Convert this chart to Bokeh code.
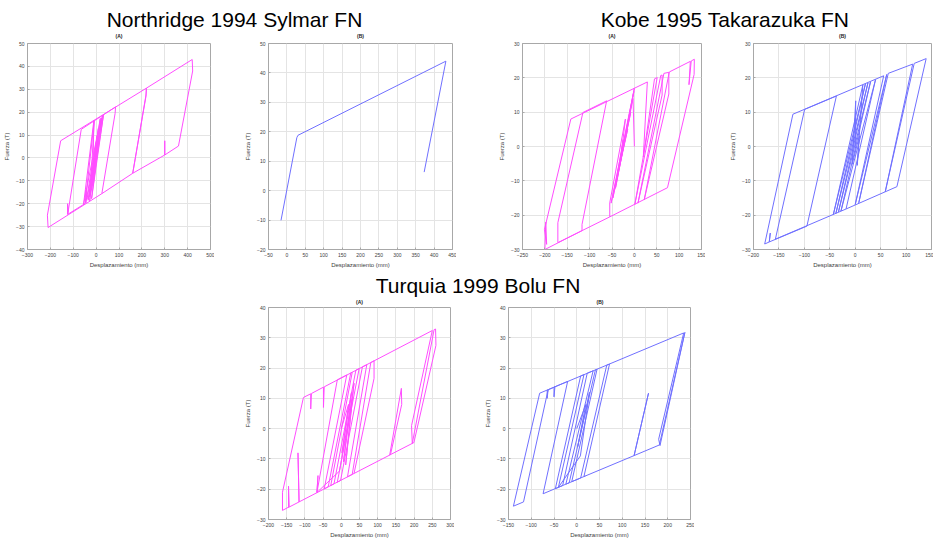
from bokeh.plotting import figure
from bokeh.models import Range1d, FixedTicker, Spacer
from bokeh.layouts import column, row
from bokeh.embed import file_html
from bokeh.resources import INLINE
from bokeh.core.properties import value

# ---------------- titles ----------------
group_titles = ["Northridge 1994 Sylmar FN", "Kobe 1995 Takarazuka FN", "Turquia 1999 Bolu FN"]
panel_titles = ["(A)", "(B)"]
x_label = "Desplazamiento (mm)"
y_label = "Fuerza (T)"

# ---------------- tick values ----------------
na_xticks = [-300, -200, -100, 0, 100, 200, 300, 400, 500]
na_yticks = [-40, -30, -20, -10, 0, 10, 20, 30, 40, 50]
nb_xticks = [-50, 0, 50, 100, 150, 200, 250, 300, 350, 400, 450]
nb_yticks = [-20, -10, 0, 10, 20, 30, 40, 50]
ka_xticks = [-250, -200, -150, -100, -50, 0, 50, 100, 150]
kb_xticks = [-200, -150, -100, -50, 0, 50, 100, 150]
k_yticks = [-30, -20, -10, 0, 10, 20, 30]
ta_xticks = [-200, -150, -100, -50, 0, 50, 100, 150, 200, 250, 300]
tb_xticks = [-150, -100, -50, 0, 50, 100, 150, 200, 250]
t_yticks = [-30, -20, -10, 0, 10, 20, 30, 40]

# ---------------- Northridge (A) ----------------
na_x = [0, 15, -20, 22, -30, 10, -35, 28, -25, 18, -45, -45, -40, 25, -20, 32, -15, -10, -55, 5, -28, -8, -48,
        -125, -125, -121, -124, -65, 85, 83, 25,
        -210, -213, -155, 220, 218, 160, 218, 220,
        420, 422, 360, 300, 300, 300, 160, 25]
na_y = [0, 14, -14, 17.5, -17, 13, -18.5, 18.5, -16, 17.2, -19.7, -14, -18, 17.5, -17.8, 18.7, -12, 16.2, -20.3, 10, -18.8, 16.5, -19.9,
        -24.7, -20, -22.5, -24.5, 12.5, 22.3, 19.5, -15.6,
        -30.4, -25, 7.5, 30.5, 27, -6.7, 27.5, 30.5,
        43, 38, 5.2, 1.3, 7.5, 1.3, -6.7, -15.6]

# ---------------- Northridge (B) ----------------
nb_x = [-16, 27, 30, 432, 373]
nb_y = [-10.1, 18, 18.8, 44, 6.3]

# ---------------- Kobe (A) ----------------
ka_x = [0, -3, -42, -1, -48, 0, -52, -8, -45, -15, -38, -25, -30, -20, -55, -55,
        -171, -171, -115, -62, -117, -117, -200, -198, -196, -201,
        -142, 29, 20, 45, 51, 1, 59, 62, 62, 8, 66, 77, 77, 22, 78, 125, 122, 127, 131, 134, 133.5, 74, -55]
ka_y = [0, 14, -12, 16, -15, 17, -16.5, 10, -13, 5, -8, 2, -3, 8, -16.4, -20.5,
        -28, -22.2, 9.9, 13.3, -22.7, -24.5, -30, -22, -28.5, -24.2,
        8, 18.8, -3, 19.7, 20.1, -16.9, 20.7, 20.8, 15, -16.5, 21.3, 21.6, 15.3, -15.5, 21.7, 24.8, 18, 24.9, 25.2, 25.4, 21, -12, -20.5]

# ---------------- Kobe (B) ----------------
kb_x = [0, 1, -6, 8, 4,
        15, -43, 20, -38, 25, -33, 30, -28, 40, -18,
        -157, -99.5, -37, -95, -169, -167, -169, -178, -122.5,
        56, 0, 62, 7, 65, 113, 59, 116, 139.5, 82, -18]
kb_y = [0, 13.3, -5.2, 3, -5.5,
        17.9, -19.8, 18.2, -19.5, 18.5, -19.1, 18.8, -18.8, 19.5, -18.2,
        -27.0, 10.8, 14.7, -23.2, -27.8, -25.2, -27.8, -28.4, 9.4,
        20.6, -16.9, 21.0, -16.4, 21.3, 24.0, -13.2, 24.2, 25.6, -11.7, -18.2]

# ---------------- Turquia (A) ----------------
ta_x = [0, 20, 2, 28, 6, 35, 12, 30, -5,
        -67, -64, -67, -11, 15, -47, -36, 26, 30, -29, -20, 40, 49, -11, -2, 58, 70, 17, 30, 81, 90, 90, 35,
        -116, -119, -116, -145, -145, -143, -161.6, -161.6,
        -104, -84, -84, -82, -49, -49, -47, 250, 193, 195, 255, 259, 260, 199.5,
        133, 165, 166, 135, 35]
ta_y = [0, 8, -8, 12, -11, 15, -12, 10, -14,
        -21.1, -15.5, -21.1, 16.1, 17.7, -19.9, -19.2, 18.4, 18.6, -18.8, -18.2, 19.3, 19.8, -17.7, -17.1, 20.4, 21.1, -15.9, -15.1, 21.8, 22.4, 16.6, -14.8,
        -24.2, -8, -24.2, -26, -19, -25.8, -27, -21,
        10.3, 11.5, 6.5, 11.6, 13.7, 7, 13.8, 32.4, 1, -4.9, 32.7, 32.9, 27.5, -4.6,
        -8.7, 13.3, 8, -8.6, -14.8]

# ---------------- Turquia (B) ----------------
tb_x = [0, 20, 2, 28, 8,
        -40.4, 15.8, 8.6, -47, -31, 23, 36, -23.9, -16.7, 41, 44.6, -11, 8.6, 66, 72, 15.8, 19.4,
        -74, -20, -50, -50, -48, -65, -65, -63, -117, -139.2, -81.5,
        235, 180, 183, 237.7, 181.5, 126, 157.7, 126, 19.4]
tb_y = [0, 8, -6, 12, -9,
        -19.4, 17.8, 17.4, -19.8, -18.8, 18.3, 19.1, -18.3, -17.9, 19.4, 19.6, -17.5, -16.3, 21.0, 21.3, -15.8, -15.6,
        -21.5, 15.6, 13.7, 10.5, 13.8, 12.7, 10, 12.8, -24.2, -25.6, 11.7,
        31.6, -3.5, -5.6, 31.8, -5.4, -8.9, 11.7, -8.9, -15.6]

MAGENTA = "#ff4dff"
BLUE = "#7070ff"
FRAME = "#a8a8a8"
TXT = "#404040"
FONT = "Liberation Sans"
BASE_COMP = 0.33   # baseline correction (fraction of the font size)


def panel(xs, ys, color, xr, yr, xt, yt, fw, fh, top, bottom, left=27, right=4):
    p = figure(width=left + fw + right, height=top + fh + bottom, title=None,
               x_range=Range1d(*xr), y_range=Range1d(*yr),
               output_backend="svg", toolbar_location=None,
               min_border_left=left, min_border_right=right,
               min_border_top=top, min_border_bottom=bottom)
    p.xaxis.ticker = FixedTicker(ticks=xt)
    p.yaxis.ticker = FixedTicker(ticks=yt)
    p.xaxis.axis_label = x_label
    p.yaxis.axis_label = y_label
    for ax in (p.xaxis[0], p.yaxis[0]):
        ax.axis_label_text_font = FONT
        ax.axis_label_text_font_size = "6px"
        ax.axis_label_text_font_style = "normal"
        ax.axis_label_text_color = TXT
        ax.axis_label_standoff = 2
        ax.major_label_text_font = FONT
        ax.major_label_text_font_size = "5px"
        ax.major_label_text_color = TXT
        ax.major_label_standoff = 3
        ax.axis_line_color = FRAME
        ax.major_tick_line_color = FRAME
        ax.major_tick_in = 2
        ax.major_tick_out = 0
        ax.minor_tick_line_color = None
    p.yaxis[0].axis_label_standoff = 3
    p.grid.grid_line_color = "#e4e4e4"
    p.outline_line_color = FRAME
    p.line(xs, ys, line_color=color, line_width=1)
    return p


def header(h, big, small):
    # big / small: (texts, x-centres, baseline measured from the header top)
    p = figure(width=933, height=h, x_range=Range1d(0, 933), y_range=Range1d(0, h),
               output_backend="svg", toolbar_location=None, min_border=0, title=None,
               x_axis_location=None, y_axis_location=None, outline_line_color=None)
    p.grid.visible = False
    for (texts, xs, base), size, style in ((big, 21, "normal"), (small, 5, "bold")):
        p.text(x=xs, y=[h - base + BASE_COMP * size] * len(xs), text=texts, text_align="center",
               text_baseline="alphabetic", text_font=value(FONT), text_font_size=f"{size}px",
               text_font_style=style, text_color="black" if size > 10 else "#202020")
    return p


h1 = header(39, (group_titles[:2], [234, 724.5], 26),
            ([panel_titles[0], panel_titles[1], panel_titles[0], panel_titles[1]], [118.5, 360, 611.5, 842], 37))
f1 = panel(na_x, na_y, MAGENTA, (-300, 500), (-40, 50), na_xticks, na_yticks, 183, 212, 2, 20)
f2 = panel(nb_x, nb_y, BLUE, (-50, 450), (-20, 50), nb_xticks, nb_yticks, 184, 212, 2, 20)
f3 = panel(ka_x, ka_y, MAGENTA, (-250, 150), (-30, 30), ka_xticks, k_yticks, 179, 206, 4, 24)
f4 = panel(kb_x, kb_y, BLUE, (-200, 150), (-30, 30), kb_xticks, k_yticks, 178, 206, 4, 24, right=2)
h2 = header(32, (group_titles[2:], [477.5], 19),
            (panel_titles, [359, 599.5], 30.5))
f5 = panel(ta_x, ta_y, MAGENTA, (-200, 300), (-30, 40), ta_xticks, t_yticks, 182, 212, 2, 22)
f6 = panel(tb_x, tb_y, BLUE, (-150, 250), (-30, 40), tb_xticks, t_yticks, 182, 212, 2, 22)

layout = column(
    h1,
    row(f1, Spacer(width=27), f2, Spacer(width=39), f3, Spacer(width=21), f4),
    h2,
    row(Spacer(width=241), f5, Spacer(width=27), f6),
)

open("out.html", "w").write(file_html(layout, INLINE))
